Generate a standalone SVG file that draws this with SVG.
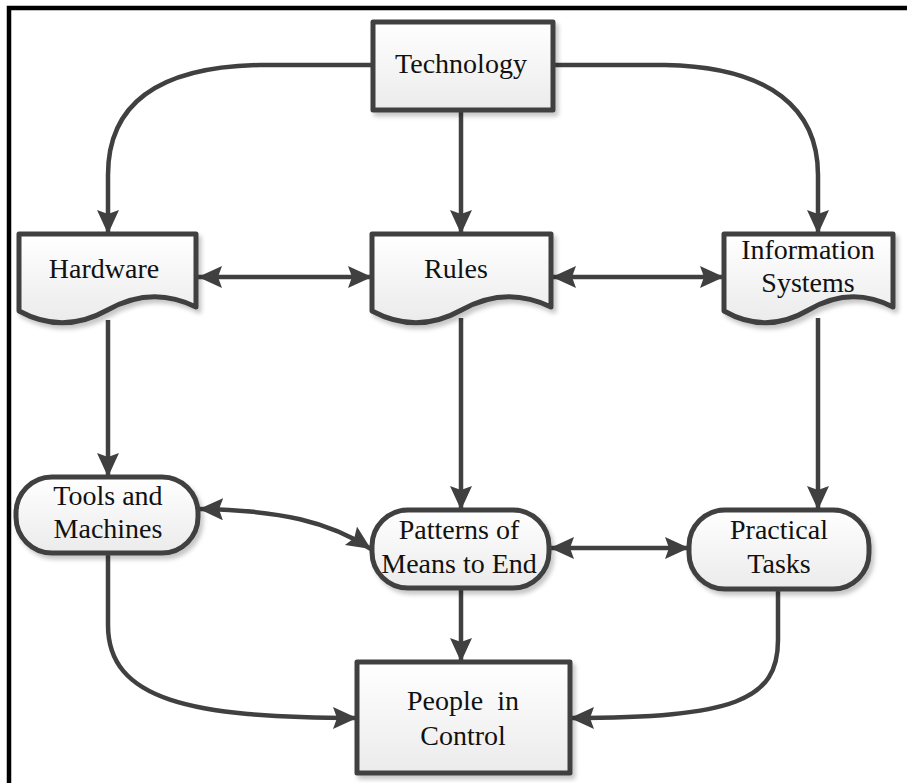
<svg xmlns="http://www.w3.org/2000/svg" width="907" height="783" viewBox="0 0 907 783">
<defs>
  <linearGradient id="fillg" x1="0" y1="0" x2="0" y2="1">
    <stop offset="0" stop-color="#ffffff"/>
    <stop offset="1" stop-color="#ebebeb"/>
  </linearGradient>
  <filter id="sh" x="-10%" y="-10%" width="130%" height="130%">
    <feDropShadow dx="3" dy="4" stdDeviation="2" flood-color="#000" flood-opacity="0.22"/>
  </filter>
  <marker id="ah" markerUnits="userSpaceOnUse" markerWidth="26" markerHeight="24" refX="24" refY="11" orient="auto-start-reverse" viewBox="0 0 26 24">
    <path d="M0,0 L24,11 L0,22 L4,11 z" fill="#404040"/>
  </marker>
</defs>
<style>
  .node { fill: url(#fillg); stroke: #404040; stroke-width: 5; stroke-linejoin: round; filter: url(#sh); }
  .lbl { font-family: 'Liberation Serif', 'DejaVu Serif', serif; font-size: 28px; fill: #111; text-anchor: middle; }
  .conn { fill: none; stroke: #404040; stroke-width: 4.5; }
  .arr { marker-end: url(#ah); }
  .dbl { marker-start: url(#ah); marker-end: url(#ah); }
</style>
<rect width="907" height="783" fill="#ffffff"/>
<path d="M9,783 V8 H907" fill="none" stroke="#000" stroke-width="4.5"/>

<g id="connectors">
  <path class="conn arr" d="M373,65 L260,65 C150,67 108,110 108,175 L108,234"/>
  <path class="conn arr" d="M461,110 L461,234"/>
  <path class="conn arr" d="M553,65 L665,65 C772,67 818,110 818,175 L818,234"/>
  <path class="conn dbl" d="M198,277 L372,277"/>
  <path class="conn dbl" d="M552,277 L724,277"/>
  <path class="conn arr" d="M108,320 L108,477"/>
  <path class="conn arr" d="M461,318 L461,510"/>
  <path class="conn arr" d="M818,318 L818,510"/>
  <path class="conn dbl" d="M199,509 C280,510 330,522 371,549"/>
  <path class="conn dbl" d="M550,548 L689,548"/>
  <path class="conn arr" d="M461,588 L461,662"/>
  <path class="conn arr" d="M108,553 L108,625 C108,700 190,718 357,718"/>
  <path class="conn arr" d="M778,590 L778,640 C778,700 735,718 570,718"/>
</g>

<g id="technology">
  <rect class="node" x="373" y="22" width="180" height="88"/>
  <text class="lbl" font-family="Liberation Serif, serif" x="461" y="73">Technology</text>
</g>
<g id="hardware">
  <path class="node" d="M19,234 H196 V307 Q152,285 107.5,310 T19,311 Z"/>
  <text class="lbl" font-family="Liberation Serif, serif" x="104" y="278">Hardware</text>
</g>
<g id="rules">
  <path class="node" d="M372,234 H551 V307 Q506,285 461.5,310 T372,311 Z"/>
  <text class="lbl" font-family="Liberation Serif, serif" x="456" y="278">Rules</text>
</g>
<g id="information-systems">
  <path class="node" d="M724,234 H893 V307 Q851,285 808.5,310 T724,311 Z"/>
  <text class="lbl" font-family="Liberation Serif, serif" x="808" y="259">Information</text>
  <text class="lbl" font-family="Liberation Serif, serif" x="808" y="292">Systems</text>
</g>
<g id="tools-and-machines">
  <rect class="node" x="16" y="477" width="182" height="76" rx="36" ry="36"/>
  <text class="lbl" font-family="Liberation Serif, serif" x="108" y="505">Tools and</text>
  <text class="lbl" font-family="Liberation Serif, serif" x="108" y="538">Machines</text>
</g>
<g id="patterns">
  <rect class="node" x="372" y="510" width="177" height="78" rx="36" ry="36"/>
  <text class="lbl" font-family="Liberation Serif, serif" x="459" y="539">Patterns of</text>
  <text class="lbl" font-family="Liberation Serif, serif" x="459" y="573">Means to End</text>
</g>
<g id="practical-tasks">
  <rect class="node" x="689" y="510" width="180" height="79" rx="36" ry="36"/>
  <text class="lbl" font-family="Liberation Serif, serif" x="779" y="539">Practical</text>
  <text class="lbl" font-family="Liberation Serif, serif" x="779" y="573">Tasks</text>
</g>
<g id="people-in-control">
  <rect class="node" x="357" y="662" width="213" height="111"/>
  <text class="lbl" font-family="Liberation Serif, serif" x="463" y="710" xml:space="preserve">People  in</text>
  <text class="lbl" font-family="Liberation Serif, serif" x="463" y="745">Control</text>
</g>
</svg>
